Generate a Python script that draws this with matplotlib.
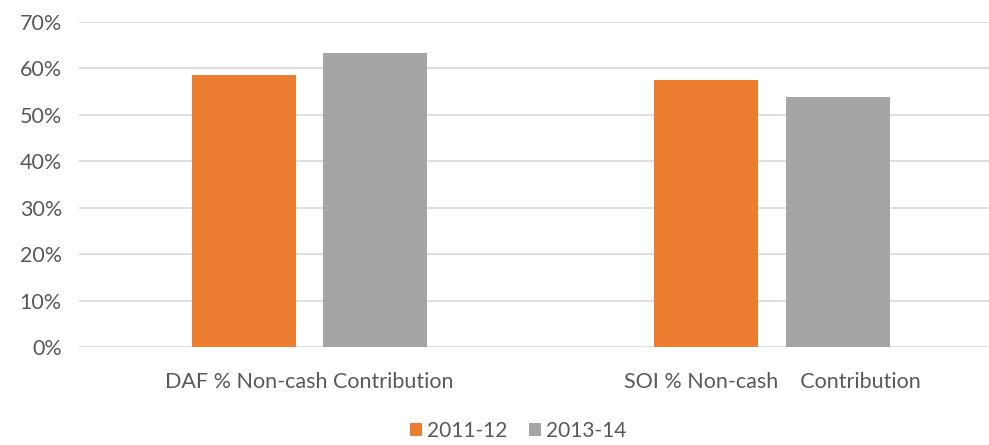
import matplotlib
matplotlib.use("Agg")
import matplotlib.pyplot as plt
import numpy as np

# data
categories = ["DAF % Non-cash Contribution", "SOI % Non-cash    Contribution"]
series_names = ["2011-12", "2013-14"]
values_2011 = [0.586, 0.576]
values_2013 = [0.634, 0.538]
yticks = [0.0, 0.1, 0.2, 0.3, 0.4, 0.5, 0.6, 0.7]

colors = ["#ED7D31", "#A5A5A5"]
text_color = "#595959"
grid_color = "#D9D9D9"

plt.rcParams['font.family'] = ['Lato', 'DejaVu Sans']

fig = plt.figure(figsize=(9.89, 4.45), dpi=100)
ax = fig.add_axes([0.0794, 0.2202, 0.9206, 0.7304])

x = np.arange(len(categories))
width = 0.225
offset = 0.142
ax.bar(x - offset, values_2011, width, color=colors[0], label=series_names[0], zorder=3)
ax.bar(x + offset, values_2013, width, color=colors[1], label=series_names[1], zorder=3)

ax.set_xlim(-0.5, 1.469)
ax.set_ylim(0, 0.70)
ax.set_yticks(yticks)
ax.set_yticklabels([f"{int(round(t * 100))}%" for t in yticks])
ax.set_xticks(x)
ax.set_xticklabels(categories)

ax.grid(axis='y', color=grid_color, linewidth=1.2, zorder=0)
for s in ax.spines.values():
    s.set_visible(False)
ax.tick_params(axis='both', length=0, labelsize=15.5, colors=text_color)
ax.tick_params(axis='x', pad=18)
ax.tick_params(axis='y', pad=12)

fig.legend(loc='center', bbox_to_anchor=(0.524, 1 - 431 / 445), ncol=2, frameon=False,
           fontsize=15, labelcolor=text_color, handlelength=0.6, handleheight=0.6,
           handletextpad=0.25, columnspacing=1.0, borderpad=0)

fig.savefig("out.png", dpi=100)
